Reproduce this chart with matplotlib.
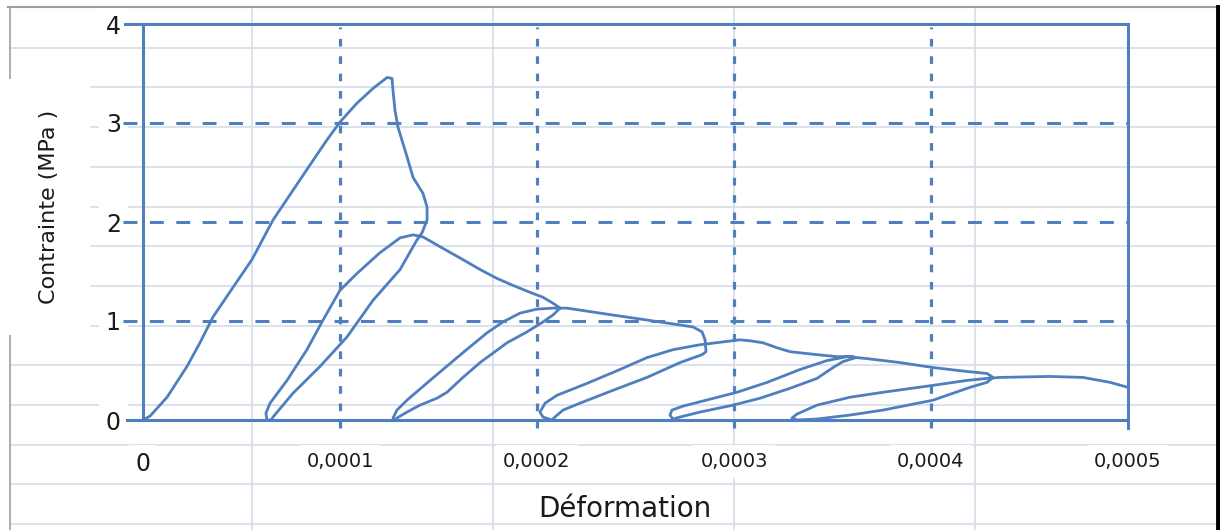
import matplotlib
matplotlib.use('Agg')
import matplotlib.pyplot as plt
import numpy as np

plt.rcParams['lines.scale_dashes'] = False

# Cyclic compression curve, strain in units of 1e-4, stress in MPa
strain_e4 = [
    # first loading + softening
    0, 0.036, 0.122, 0.223, 0.289, 0.355, 0.457, 0.553, 0.660, 0.832, 0.934, 1.000,
    1.086, 1.168, 1.239, 1.264, 1.269, 1.279, 1.294, 1.340, 1.371, 1.421, 1.442, 1.442,
    # unload 1
    1.416, 1.391, 1.305, 1.168, 1.036, 0.898, 0.761, 0.660, 0.650,
    # reload 1 + softening
    0.629, 0.624, 0.645, 0.731, 0.832, 0.914, 1.000, 1.086, 1.203, 1.305, 1.371, 1.421,
    1.508, 1.624, 1.711, 1.797, 1.878, 1.964, 2.030, 2.081, 2.117,
    # unload 2
    2.081, 2.030, 1.949, 1.848, 1.711, 1.624, 1.543, 1.492, 1.406, 1.340, 1.289, 1.279,
    # reload 2 + softening
    1.269, 1.289, 1.340, 1.457, 1.624, 1.746, 1.827, 1.914, 2.000, 2.081, 2.152, 2.218,
    2.386, 2.558, 2.690, 2.792, 2.838, 2.853, 2.858, 2.838,
    # unload 3
    2.726, 2.558, 2.386, 2.218, 2.132, 2.091, 2.076,
    # reload 3 + softening
    2.030, 2.015, 2.041, 2.102, 2.254, 2.421, 2.558, 2.690, 2.827, 3.030, 3.081, 3.147,
    3.218, 3.284, 3.421, 3.523, 3.604, 3.619,
    # unload 4
    3.553, 3.503, 3.421, 3.284, 3.132, 2.995, 2.827, 2.726, 2.690,
    # reload 4 + softening
    2.675, 2.685, 2.741, 2.878, 3.015, 3.168, 3.335, 3.472, 3.574, 3.675, 3.843, 4.010,
    4.183, 4.284, 4.315,
    # unload 5
    4.284, 4.198, 4.010, 3.756, 3.589, 3.421, 3.320,
    # reload 5 + softening
    3.294, 3.320, 3.421, 3.589, 3.756, 4.010, 4.183, 4.284, 4.350, 4.604, 4.772, 4.909,
    5.000,
]
stress = [
    0, 0.04, 0.23, 0.54, 0.78, 1.04, 1.34, 1.62, 2.02, 2.53, 2.83, 3.01,
    3.20, 3.35, 3.46, 3.45, 3.33, 3.13, 2.96, 2.66, 2.45, 2.29, 2.15, 2.02,
    1.89, 1.82, 1.52, 1.21, 0.84, 0.54, 0.27, 0.03, 0,
    0, 0.07, 0.17, 0.40, 0.71, 1.01, 1.31, 1.48, 1.69, 1.84, 1.87, 1.85,
    1.75, 1.62, 1.52, 1.43, 1.36, 1.29, 1.24, 1.18, 1.13,
    1.06, 0.99, 0.89, 0.78, 0.58, 0.43, 0.28, 0.22, 0.15, 0.08, 0.02, 0,
    0.02, 0.10, 0.20, 0.40, 0.68, 0.88, 0.99, 1.08, 1.12, 1.13, 1.13, 1.11,
    1.06, 1.01, 0.97, 0.94, 0.89, 0.81, 0.69, 0.66,
    0.58, 0.43, 0.30, 0.17, 0.10, 0.03, 0,
    0.03, 0.08, 0.17, 0.25, 0.37, 0.51, 0.63, 0.71, 0.76, 0.81, 0.80, 0.78,
    0.73, 0.69, 0.66, 0.64, 0.64, 0.63,
    0.59, 0.53, 0.42, 0.32, 0.22, 0.15, 0.08, 0.03, 0.01,
    0.05, 0.10, 0.14, 0.21, 0.28, 0.38, 0.51, 0.60, 0.64, 0.62, 0.58, 0.53,
    0.49, 0.47, 0.43,
    0.38, 0.33, 0.20, 0.10, 0.05, 0.01, 0,
    0.02, 0.06, 0.15, 0.23, 0.28, 0.35, 0.40, 0.42, 0.43, 0.44, 0.43, 0.38,
    0.33,
]

x_ticks = [0, 0.0001, 0.0002, 0.0003, 0.0004, 0.0005]
x_labels = ['0', '0,0001', '0,0002', '0,0003', '0,0004', '0,0005']
y_ticks = [0, 1, 2, 3, 4]
y_labels = ['0', '1', '2', '3', '4']

blue = '#4f7fbf'
W, H = 1220, 530

fig = plt.figure(figsize=(W / 100, H / 100), dpi=100)

# spreadsheet cells behind the chart
bg = fig.add_axes([0, 0, 1, 1])
bg.set_xlim(0, W)
bg.set_ylim(H, 0)
bg.axis('off')
for yy in np.arange(47.7, H, 39.7):
    bg.plot([10, 1215], [yy, yy], color='#d6dde9', lw=1.2)
for xx in [252, 493, 734, 975]:
    bg.plot([xx, xx], [7, H], color='#d6dde9', lw=1.2)
bg.plot([8, 1215], [7, 7], color='#9c9c9c', lw=1.5)
bg.plot([10, 10], [7, H], color='#a8a8a8', lw=1.3)
bg.plot([1217.5, 1217.5], [7, H], color='black', lw=3.5)

ax = fig.add_axes([143 / W, 110 / H, 985 / W, 396 / H])
ax.set_facecolor('none')
ax.set_xlim(0, 0.0005)
ax.set_ylim(0, 4)
for s in ax.spines.values():
    s.set_visible(False)

strain = np.array(strain_e4) * 1e-4
ax.plot(strain, stress, color=blue, lw=2.0, solid_joinstyle='round',
        solid_capstyle='round', zorder=4)

# dashed grid, running a little past the frame
for y in y_ticks[1:-1]:
    ax.plot([-0.1e-4, 0.0005], [y, y], color=blue, lw=2.2, dashes=(10, 9),
            clip_on=False, zorder=3)
for x in x_ticks[1:-1]:
    ax.plot([x, x], [-0.08, 3.97], color=blue, lw=2.3, dashes=(5.5, 7),
            clip_on=False, zorder=3)

# frame
ax.plot([-0.09e-4, 0.0005], [4, 4], color=blue, lw=2.2, clip_on=False, zorder=3)
ax.plot([-0.08e-4, 0.0005], [0, 0], color=blue, lw=2.2, clip_on=False, zorder=3)
ax.plot([0, 0], [0, 4], color=blue, lw=2.2, clip_on=False, zorder=3)
ax.plot([0.0005, 0.0005], [-0.08, 4], color=blue, lw=2.2, clip_on=False, zorder=3)

ax.set_xticks(x_ticks)
ax.set_xticklabels(x_labels)
ax.set_yticks(y_ticks)
ax.set_yticklabels(y_labels)
ax.tick_params(axis='x', length=0, pad=23, labelsize=14, labelcolor='#1a1a1a')
ax.tick_params(axis='y', length=0, pad=16, labelsize=17, labelcolor='#1a1a1a')
ax.get_xticklabels()[0].set_fontsize(17)
for lab in ax.get_xticklabels() + ax.get_yticklabels():
    lab.set_bbox(dict(facecolor='white', edgecolor='none', pad=5))

ax.set_ylabel('Contrainte (MPa )', fontsize=16, color='#1a1a1a')
ax.yaxis.label.set_va('center')
ax.yaxis.set_label_coords((49 - 143) / 985, (420 - 207) / 396)
ax.yaxis.label.set_bbox(dict(facecolor='white', edgecolor='none', pad=22))

ax.set_xlabel('Déformation', fontsize=20, color='#1a1a1a')
ax.xaxis.label.set_va('center')
ax.xaxis.set_label_coords((625 - 143) / 985, (420 - 509) / 396)

fig.savefig('out.png', dpi=100)
